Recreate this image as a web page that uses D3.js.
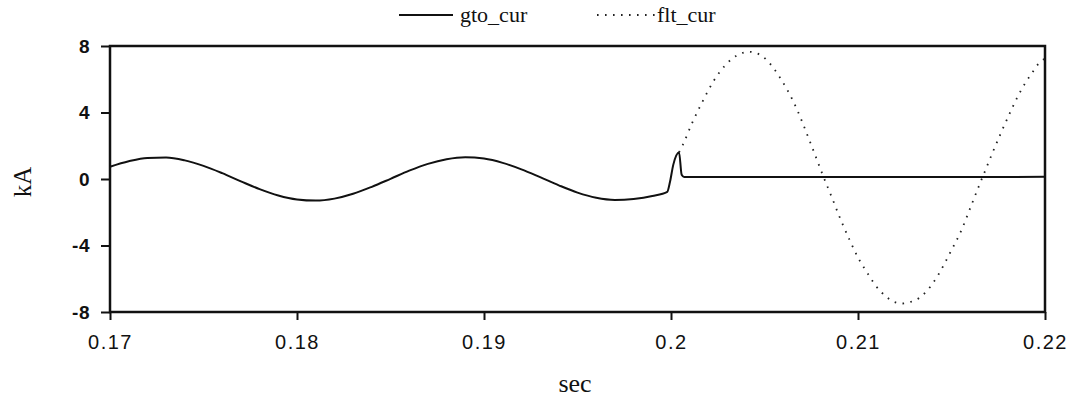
<!DOCTYPE html>
<html>
<head>
<meta charset="utf-8">
<script src="https://cdn.jsdelivr.net/npm/d3@7/dist/d3.min.js"></script>
<style>
  html, body { margin: 0; padding: 0; background: #fff; }
  svg { display: block; }
  .tick text { fill: #111; }
</style>
</head>
<body>
<svg id="chart" width="1076" height="400"></svg>
<script>
// Time axis (s) and tick labels
const xTicks = [0.17, 0.18, 0.19, 0.20, 0.21, 0.22];
const yTicks = [-8, -4, 0, 4, 8];

// gto_cur: GTO current (kA)
const gtoTime = [
  0.170, 0.171, 0.172, 0.173, 0.174, 0.175, 0.176, 0.177, 0.178, 0.179,
  0.180, 0.181, 0.182, 0.183, 0.184, 0.185, 0.186, 0.187, 0.188, 0.189,
  0.190, 0.191, 0.192, 0.193, 0.194, 0.195, 0.196, 0.197, 0.198, 0.199,
  0.1998, 0.19995, 0.20012, 0.20043, 0.20057, 0.2007, 0.205, 0.210, 0.215, 0.220
];
const gtoVal = [
  0.74, 1.07, 1.27, 1.29, 1.12, 0.79, 0.35, -0.14, -0.61, -0.99,
  -1.23, -1.30, -1.18, -0.89, -0.47, 0.01, 0.50, 0.91, 1.19, 1.31,
  1.23, 0.97, 0.58, 0.11, -0.38, -0.82, -1.13, -1.26, -1.20, -1.02,
  -0.77, -0.15, 0.85, 1.60, 0.25, 0.12, 0.12, 0.12, 0.12, 0.13
];

// flt_cur: fault current (kA), from fault inception onwards
const fltTime = [
  0.20043, 0.20063, 0.20114, 0.20171, 0.20232, 0.20287, 0.20353, 0.20417,
  0.20481, 0.20542, 0.20590, 0.20654, 0.20752, 0.20813, 0.20861, 0.20909,
  0.20961, 0.21000, 0.21045, 0.21093, 0.21154, 0.21193, 0.21238, 0.21282,
  0.21325, 0.21360, 0.21414, 0.21497, 0.21555, 0.21603, 0.21652, 0.21683,
  0.21716, 0.21766, 0.21820, 0.21877, 0.21924, 0.21977, 0.22000
];
const fltVal = [
  1.60, 2.05, 3.39, 4.71, 5.97, 6.80, 7.44, 7.65,
  7.44, 6.76, 5.97, 4.67, 1.99, 0.20, -1.13, -2.49,
  -3.81, -4.72, -5.56, -6.39, -7.11, -7.39, -7.49, -7.39,
  -7.17, -6.83, -6.04, -4.34, -3.03, -1.67, -0.27, 0.58,
  1.49, 2.81, 4.16, 5.44, 6.27, 7.07, 7.25
];

const svg = d3.select("#chart");
const plot = { left: 110, right: 1045, top: 46, bottom: 312 };

const x = d3.scaleLinear().domain([0.17, 0.22]).range([plot.left, plot.right]);
const y = d3.scaleLinear().domain([-8, 8]).range([plot.bottom, plot.top]);

const ink = "#111";
const tickFont = "'Liberation Sans', Arial, Helvetica, sans-serif";
const serif = "'Liberation Serif', 'Times New Roman', Times, serif";

// Y axis
const yAxis = svg.append("g")
  .attr("transform", `translate(${plot.left},0)`)
  .call(d3.axisLeft(y).tickValues(yTicks).tickSize(9).tickSizeOuter(0)
    .tickFormat(d => String(d)));
yAxis.select(".domain").remove();
yAxis.selectAll(".tick line").attr("stroke", ink).attr("stroke-width", 2);
yAxis.selectAll(".tick text")
  .attr("x", -20)
  .style("font-family", tickFont)
  .style("font-size", "19px")
  .style("font-weight", "bold")
  .style("letter-spacing", "0.5px");

// X axis
const xAxis = svg.append("g")
  .attr("transform", `translate(0,${plot.bottom})`)
  .call(d3.axisBottom(x).tickValues(xTicks).tickSize(8).tickSizeOuter(0)
    .tickFormat(d => String(+d.toFixed(2))));
xAxis.select(".domain").remove();
xAxis.selectAll(".tick line").attr("stroke", ink).attr("stroke-width", 2);
xAxis.selectAll(".tick text")
  .attr("y", 23)
  .style("font-family", tickFont)
  .style("font-size", "20px")
  .style("letter-spacing", "1.5px");

// Plot frame
svg.append("rect")
  .attr("x", plot.left).attr("y", plot.top)
  .attr("width", plot.right - plot.left)
  .attr("height", plot.bottom - plot.top)
  .attr("fill", "none")
  .attr("stroke", ink)
  .attr("stroke-width", 2.5);

// Curves
const line = d3.line().curve(d3.curveMonotoneX);
const gtoPts = gtoTime.map((t, i) => [x(t), y(gtoVal[i])]);
const fltPts = fltTime.map((t, i) => [x(t), y(fltVal[i])]);

svg.append("path")
  .attr("d", line(fltPts))
  .attr("fill", "none")
  .attr("stroke", "#222")
  .attr("stroke-width", 1.8)
  .attr("stroke-dasharray", "1.6 6.4");

svg.append("path")
  .attr("d", line(gtoPts))
  .attr("fill", "none")
  .attr("stroke", ink)
  .attr("stroke-width", 2);

// Axis titles
svg.append("text")
  .attr("x", 575)
  .attr("y", 392)
  .attr("text-anchor", "middle")
  .style("font-family", serif)
  .style("font-size", "26px")
  .attr("fill", ink)
  .text("sec");

svg.append("text")
  .attr("transform", `translate(31,${(plot.top + plot.bottom) / 2 + 3}) rotate(-90)`)
  .attr("text-anchor", "middle")
  .style("font-family", serif)
  .style("font-size", "25px")
  .attr("fill", ink)
  .text("kA");

// Legend
const legend = svg.append("g");
legend.append("line")
  .attr("x1", 399).attr("x2", 453).attr("y1", 15).attr("y2", 15)
  .attr("stroke", ink).attr("stroke-width", 2);
legend.append("text")
  .attr("x", 460).attr("y", 22)
  .style("font-family", serif).style("font-size", "22px")
  .attr("fill", ink).text("gto_cur");
legend.append("line")
  .attr("x1", 597).attr("x2", 655).attr("y1", 15).attr("y2", 15)
  .attr("stroke", "#222").attr("stroke-width", 1.8)
  .attr("stroke-dasharray", "1.6 6.4");
legend.append("text")
  .attr("x", 657).attr("y", 22)
  .style("font-family", serif).style("font-size", "22px")
  .attr("fill", ink).text("flt_cur");
</script>
</body>
</html>
